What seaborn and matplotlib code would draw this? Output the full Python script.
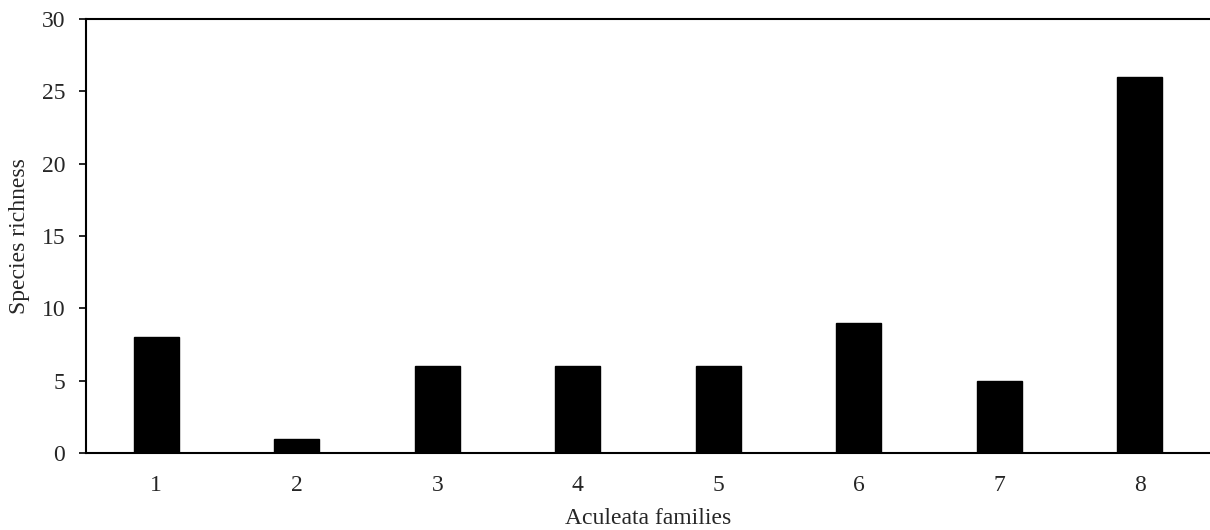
import matplotlib
matplotlib.use("Agg")
import matplotlib.pyplot as plt
import seaborn as sns
import pandas as pd

families = ["1", "2", "3", "4", "5", "6", "7", "8"]
richness = [8, 1, 6, 6, 6, 9, 5, 26]

sns.set_theme(style="white")
plt.rcParams['font.family'] = ['Liberation Serif', 'DejaVu Serif']

df = pd.DataFrame({"family": families, "richness": richness})

fig = plt.figure(figsize=(12.1, 5.3), dpi=100)
ax = fig.add_axes([0.0711, 0.1453, 0.9289, 0.8189])
sns.barplot(data=df, x="family", y="richness", color="black", width=0.32,
            saturation=1, ax=ax, edgecolor="black")
ax.set_xlim(-0.5, 7.5)
ax.set_ylim(0, 30)
ax.set_yticks([0, 5, 10, 15, 20, 25, 30])
ax.tick_params(axis="y", left=True, length=5, width=1.2, color="black",
               labelsize=17, pad=10, direction="out")
ax.tick_params(axis="x", bottom=False, labelsize=17, pad=9.5)
for s in ["left", "bottom", "top"]:
    ax.spines[s].set_visible(True)
    ax.spines[s].set_color("black")
    ax.spines[s].set_linewidth(1.5)
ax.spines["right"].set_visible(False)
ax.set_xlabel("Aculeata families", fontsize=17, labelpad=9)
ax.set_ylabel("Species richness", fontsize=17, labelpad=8)
fig.savefig("out.png", dpi=100)
